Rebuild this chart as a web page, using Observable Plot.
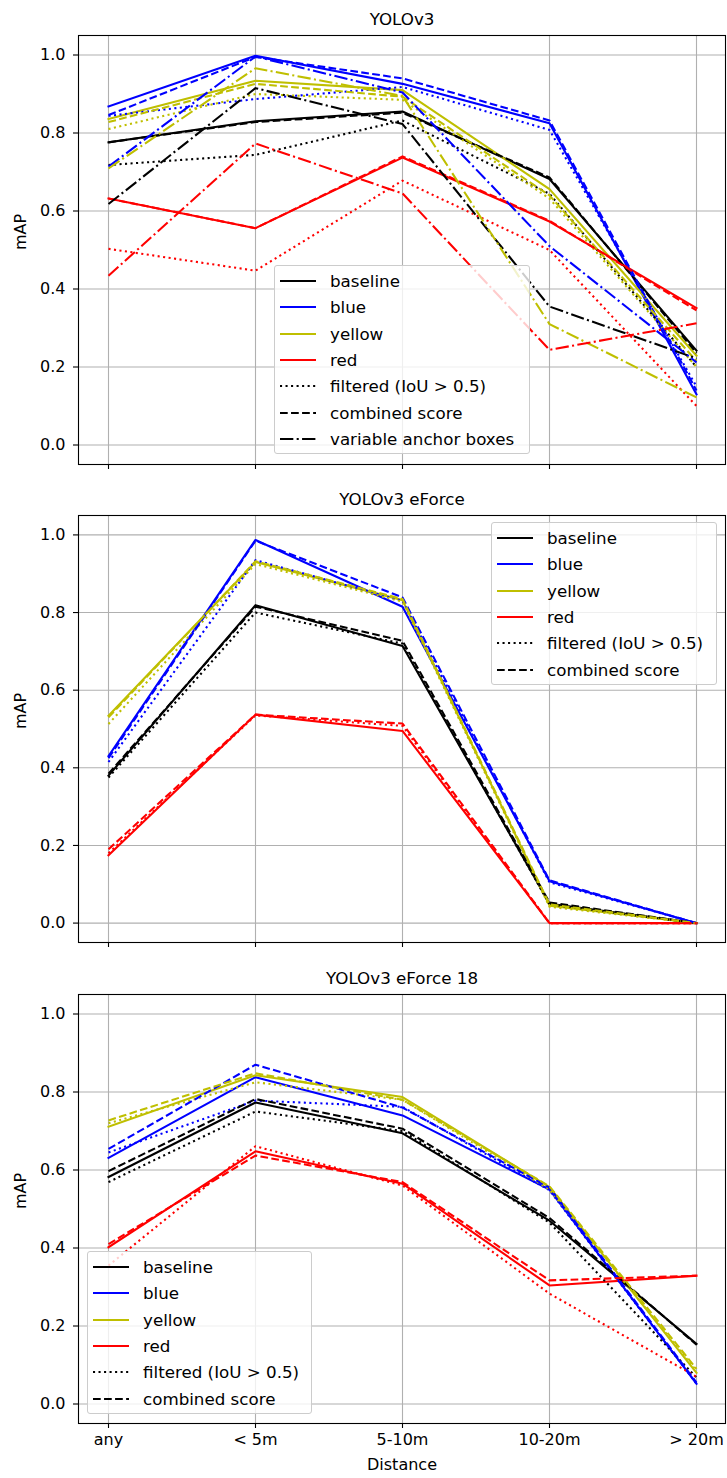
<!DOCTYPE html>
<html><head><meta charset="utf-8">
<script src="https://cdn.jsdelivr.net/npm/d3@7"></script>
<script src="https://cdn.jsdelivr.net/npm/@observablehq/plot@0.6"></script>
<style>
body{margin:0;background:#fff;font-family:"DejaVu Sans",sans-serif;}
#root{position:relative;width:727px;height:1478px;overflow:hidden;background:#fff}
.panel{position:absolute;left:0}
.legend{position:absolute;background:rgba(255,255,255,0.8);border:1px solid #cccccc;border-radius:3px;box-sizing:border-box;padding-top:2px;font-size:16.7px;color:#000;font-family:"DejaVu Sans",sans-serif}
.legend .row{display:flex;align-items:center;height:26.3px;white-space:nowrap}
.legend svg{margin-left:4px;margin-right:13px;flex:none}
</style></head><body><div id="root"></div><script>
// ---- categories & ticks ----
const categories = ["any", "< 5m", "5-10m", "10-20m", "> 20m"];
const yTicks = [0, 0.2, 0.4, 0.6, 0.8, 1.0];
const panelTitles = ["YOLOv3", "YOLOv3 eForce", "YOLOv3 eForce 18"];
const colorNames = ["baseline", "blue", "yellow", "red"];
const styleNames = ["filtered (IoU > 0.5)", "combined score", "variable anchor boxes"];

// ---- YOLOv3 ----
const v3Baseline         = [0.776, 0.830, 0.855, 0.682, 0.242];
const v3BaselineFiltered = [0.718, 0.744, 0.832, 0.644, 0.200];
const v3BaselineCombined = [0.776, 0.828, 0.852, 0.686, 0.236];
const v3BaselineAnchors  = [0.618, 0.915, 0.823, 0.355, 0.222];
const v3Blue             = [0.868, 0.998, 0.926, 0.825, 0.130];
const v3BlueFiltered     = [0.844, 0.887, 0.918, 0.808, 0.150];
const v3BlueCombined     = [0.846, 0.995, 0.940, 0.832, 0.140];
const v3BlueAnchors      = [0.714, 0.996, 0.904, 0.510, 0.212];
const v3Yellow           = [0.836, 0.934, 0.910, 0.656, 0.229];
const v3YellowFiltered   = [0.810, 0.900, 0.885, 0.632, 0.200];
const v3YellowCombined   = [0.828, 0.926, 0.893, 0.640, 0.215];
const v3YellowAnchors    = [0.709, 0.966, 0.895, 0.310, 0.122];
const v3Red              = [0.632, 0.556, 0.737, 0.573, 0.351];
const v3RedFiltered      = [0.503, 0.447, 0.678, 0.500, 0.100];
const v3RedCombined      = [0.632, 0.556, 0.740, 0.575, 0.345];
const v3RedAnchors       = [0.434, 0.773, 0.645, 0.244, 0.312];

// ---- YOLOv3 eForce ----
const efBaseline         = [0.380, 0.819, 0.714, 0.050, 0.000];
const efBaselineFiltered = [0.375, 0.800, 0.720, 0.048, 0.000];
const efBaselineCombined = [0.385, 0.815, 0.727, 0.053, 0.000];
const efBlue             = [0.430, 0.987, 0.815, 0.108, 0.000];
const efBlueFiltered     = [0.415, 0.935, 0.830, 0.105, 0.000];
const efBlueCombined     = [0.425, 0.985, 0.839, 0.110, 0.000];
const efYellow           = [0.534, 0.930, 0.832, 0.045, 0.000];
const efYellowFiltered   = [0.513, 0.925, 0.828, 0.042, 0.000];
const efYellowCombined   = [0.530, 0.932, 0.835, 0.048, 0.000];
const efRed              = [0.175, 0.537, 0.495, 0.000, 0.000];
const efRedFiltered      = [0.180, 0.535, 0.508, 0.000, 0.000];
const efRedCombined      = [0.190, 0.537, 0.514, 0.000, 0.000];

// ---- YOLOv3 eForce 18 ----
const e18Baseline         = [0.582, 0.773, 0.694, 0.470, 0.154];
const e18BaselineFiltered = [0.569, 0.750, 0.700, 0.465, 0.068];
const e18BaselineCombined = [0.597, 0.782, 0.706, 0.477, 0.152];
const e18Blue             = [0.631, 0.838, 0.740, 0.550, 0.052];
const e18BlueFiltered     = [0.645, 0.778, 0.762, 0.548, 0.052];
const e18BlueCombined     = [0.654, 0.870, 0.760, 0.555, 0.055];
const e18Yellow           = [0.711, 0.843, 0.787, 0.556, 0.080];
const e18YellowFiltered   = [0.720, 0.825, 0.780, 0.550, 0.085];
const e18YellowCombined   = [0.727, 0.848, 0.780, 0.558, 0.090];
const e18Red              = [0.402, 0.648, 0.565, 0.304, 0.329];
const e18RedFiltered      = [0.355, 0.661, 0.560, 0.283, 0.070];
const e18RedCombined      = [0.410, 0.637, 0.569, 0.317, 0.329];

// ---- styles ----
const COLORS = {baseline: "#000000", blue: "#0000ff", yellow: "#bfbf00", red: "#ff0000"};
const LW = 2.08;
const DASH = {
  solid: null,
  dotted: "2.08,3.44",
  dashed: "7.71,3.33",
  dashdot: "13.33,3.33,2.08,3.33"
};
const TICK_FS = 16;

function S(color, style, values) { return {color, style, values}; }

const panels = [
  {
    title: panelTitles[0], top: 0, height: 480, mt: 35, mb: 16, showX: false,
    series: [
      S("baseline","solid",v3Baseline), S("blue","solid",v3Blue), S("yellow","solid",v3Yellow), S("red","solid",v3Red),
      S("baseline","dotted",v3BaselineFiltered), S("blue","dotted",v3BlueFiltered), S("yellow","dotted",v3YellowFiltered), S("red","dotted",v3RedFiltered),
      S("baseline","dashed",v3BaselineCombined), S("blue","dashed",v3BlueCombined), S("yellow","dashed",v3YellowCombined), S("red","dashed",v3RedCombined),
      S("baseline","dashdot",v3BaselineAnchors), S("blue","dashdot",v3BlueAnchors), S("yellow","dashdot",v3YellowAnchors), S("red","dashdot",v3RedAnchors)
    ],
    legend: {left: 274, top: 265, width: 256, styles: ["dotted","dashed","dashdot"]}
  },
  {
    title: panelTitles[1], top: 480, height: 480, mt: 35, mb: 18, showX: false,
    series: [
      S("baseline","solid",efBaseline), S("blue","solid",efBlue), S("yellow","solid",efYellow), S("red","solid",efRed),
      S("baseline","dotted",efBaselineFiltered), S("blue","dotted",efBlueFiltered), S("yellow","dotted",efYellowFiltered), S("red","dotted",efRedFiltered),
      S("baseline","dashed",efBaselineCombined), S("blue","dashed",efBlueCombined), S("yellow","dashed",efYellowCombined), S("red","dashed",efRedCombined)
    ],
    legend: {left: 491, top: 522, width: 226, styles: ["dotted","dashed"]}
  },
  {
    title: panelTitles[2], top: 960, height: 518, mt: 34, mb: 55, showX: true,
    series: [
      S("baseline","solid",e18Baseline), S("blue","solid",e18Blue), S("yellow","solid",e18Yellow), S("red","solid",e18Red),
      S("baseline","dotted",e18BaselineFiltered), S("blue","dotted",e18BlueFiltered), S("yellow","dotted",e18YellowFiltered), S("red","dotted",e18RedFiltered),
      S("baseline","dashed",e18BaselineCombined), S("blue","dashed",e18BlueCombined), S("yellow","dashed",e18YellowCombined), S("red","dashed",e18RedCombined)
    ],
    legend: {left: 87, top: 1251, width: 225, styles: ["dotted","dashed"]}
  }
];

const root = document.getElementById("root");
const styleLabel = {dotted: styleNames[0], dashed: styleNames[1], dashdot: styleNames[2]};

for (const p of panels) {
  const lineMarks = p.series.map(s => Plot.line(
    categories.map((c, i) => ({cat: c, value: s.values[i]})),
    {
      x: "cat", y: "value",
      stroke: COLORS[s.color], strokeWidth: LW,
      strokeDasharray: DASH[s.style] || undefined,
      strokeLinecap: s.style === "solid" ? "square" : "butt",
      strokeLinejoin: "round"
    }
  ));
  const chart = Plot.plot({
    width: 727, height: p.height,
    marginLeft: 78, marginRight: 2, marginTop: p.mt, marginBottom: p.mb,
    style: {fontFamily: "DejaVu Sans", fontSize: TICK_FS + "px", color: "#000", background: "transparent", overflow: "visible"},
    x: {type: "point", domain: categories, padding: 0.2, label: null},
    y: {domain: [-0.05, 1.05], label: null},
    marks: [
      Plot.gridX(categories, {stroke: "#b0b0b0", strokeOpacity: 1, strokeWidth: 1.1}),
      Plot.gridY(yTicks, {stroke: "#b0b0b0", strokeOpacity: 1, strokeWidth: 1.1}),
      ...lineMarks,
      Plot.frame({stroke: "#000", strokeWidth: 1.1}),
      Plot.axisY(yTicks, {tickFormat: d3.format(".1f"), tickSize: 5, tickPadding: 8, fontSize: TICK_FS, label: null, strokeWidth: 1.1}),
      Plot.axisX(categories, {tickSize: 5, tickPadding: 5, fontSize: TICK_FS, label: null, strokeWidth: 1.1,
        tickFormat: p.showX ? (d => d) : (() => "")}),
      Plot.text([p.title], {text: d => d, frameAnchor: "top", dy: -22, fontSize: 16.7}),
      Plot.text(["mAP"], {text: d => d, frameAnchor: "left", rotate: -90, dx: -58, fontSize: TICK_FS}),
      ...(p.showX ? [Plot.text(["Distance"], {text: d => d, frameAnchor: "bottom", dy: 46, fontSize: TICK_FS})] : [])
    ]
  });
  chart.classList.add("panel");
  chart.style.top = p.top + "px";
  chart.style.position = "absolute";
  root.appendChild(chart);

  // legend overlay
  const lg = document.createElement("div");
  lg.className = "legend";
  lg.style.left = p.legend.left + "px";
  lg.style.top = p.legend.top + "px";
  lg.style.width = p.legend.width + "px";
  const entries = colorNames.map(n => ({label: n, color: COLORS[n], style: "solid"}))
    .concat(p.legend.styles.map(st => ({label: styleLabel[st], color: "#000", style: st})));
  lg.style.height = (2 + entries.length * 26.3 + 3) + "px";
  for (const e of entries) {
    const row = document.createElement("div");
    row.className = "row";
    const ns = "http://www.w3.org/2000/svg";
    const svg = document.createElementNS(ns, "svg");
    svg.setAttribute("width", 38); svg.setAttribute("height", 10);
    const ln = document.createElementNS(ns, "line");
    ln.setAttribute("x1", 1); ln.setAttribute("x2", 37);
    ln.setAttribute("y1", 5); ln.setAttribute("y2", 5);
    ln.setAttribute("stroke", e.color);
    ln.setAttribute("stroke-width", LW);
    if (DASH[e.style]) ln.setAttribute("stroke-dasharray", DASH[e.style]);
    svg.appendChild(ln);
    const tx = document.createElement("span");
    tx.textContent = e.label;
    row.appendChild(svg); row.appendChild(tx);
    lg.appendChild(row);
  }
  root.appendChild(lg);
}
</script></body></html>
